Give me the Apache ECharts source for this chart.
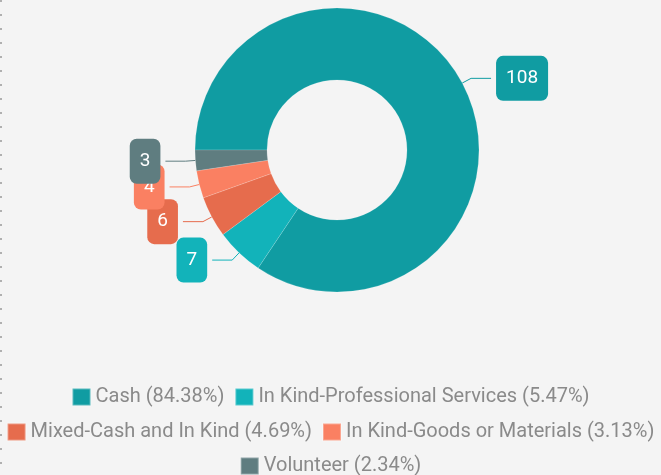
<!DOCTYPE html>
<html>
<head>
    <meta charset="utf-8">
    <script src="https://cdn.jsdelivr.net/npm/echarts@6/dist/echarts.min.js"></script>
    <title>Contribution types</title>
    <style type="text/css">
        html, body { margin: 0; padding: 0; background: #f4f4f4; }
        #edge {
            position: absolute; left: 0; top: 0; width: 2px; height: 475px; z-index: 10;
            background: repeating-linear-gradient(to bottom, #b0b0b0 0, #b0b0b0 2px, transparent 2px, transparent 14px);
        }
    </style>
</head>
<body>
    <div id="edge"></div>
    <div id="main" style="width:661px; height:475px;"></div>
    <script type="text/javascript">
        var categories = ['Cash', 'In Kind-Professional Services', 'Mixed-Cash and In Kind', 'In Kind-Goods or Materials', 'Volunteer'];
        var counts = [108, 7, 6, 4, 3];
        var colors = ['#109ca2', '#12b3ba', '#e66c4d', '#fa8062', '#5f7d80'];
        var legendRows = [
            ['Cash', 'In Kind-Professional Services'],
            ['Mixed-Cash and In Kind', 'In Kind-Goods or Materials'],
            ['Volunteer']
        ];

        var total = 0;
        for (var i = 0; i < counts.length; i++) total += counts[i];

        var data = [];
        for (var i = 0; i < categories.length; i++) {
            data.push({ name: categories[i], value: counts[i] });
        }

        var legendTops = [382, 417, 451];
        var legends = [];
        for (var r = 0; r < legendRows.length; r++) {
            legends.push({
                data: legendRows[r],
                left: 'center',
                top: legendTops[r],
                itemWidth: 18,
                itemHeight: 17,
                itemGap: 10,
                icon: 'rect',
                textStyle: { color: '#8a8a8a', fontSize: 20, fontFamily: 'Roboto' },
                formatter: function (name) {
                    var v = counts[categories.indexOf(name)];
                    return name + ' (' + (v / total * 100).toFixed(2) + '%)';
                }
            });
        }

        var myChart = echarts.init(document.getElementById('main'));
        var option = {
            backgroundColor: '#f4f4f4',
            color: colors,
            animation: false,
            legend: legends,
            series: [
                {
                    type: 'pie',
                    center: [337, 150],
                    radius: [70, 142],
                    startAngle: 180,
                    clockwise: true,
                    avoidLabelOverlap: false,
                    itemStyle: { borderColor: 'rgba(255,255,255,0.3)', borderWidth: 0.5 },
                    label: {
                        show: true,
                        position: 'outside',
                        color: '#ffffff',
                        fontFamily: 'Roboto',
                        fontSize: 19,
                        backgroundColor: 'inherit',
                        borderRadius: 7,
                        padding: [13, 10],
                        formatter: '{c}'
                    },
                    labelLine: {
                        show: true,
                        length: 10,
                        length2: 20,
                        smooth: false,
                        lineStyle: { width: 1 }
                    },
                    labelLayout: { hideOverlap: false },
                    data: data
                }
            ]
        };
        myChart.setOption(option);
    </script>
</body>
</html>
